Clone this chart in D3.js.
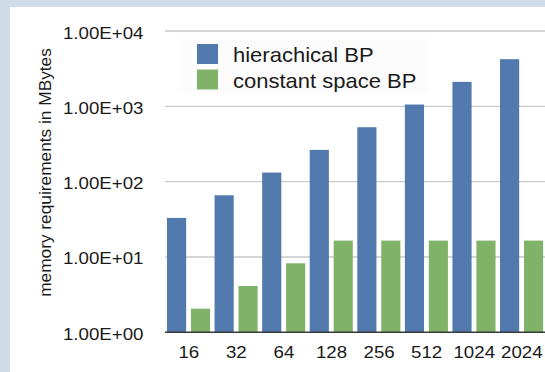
<!DOCTYPE html>
<html>
<head>
<meta charset="utf-8">
<script src="https://cdn.jsdelivr.net/npm/d3@7"></script>
<style>
  html, body { margin: 0; padding: 0; background: #cfdbe7; }
  svg { display: block; }
  text { font-family: "Liberation Sans", Arial, Helvetica, sans-serif; fill: #1a1a1a; }
</style>
</head>
<body>
<svg id="chart" width="545" height="372"></svg>
<script>
// Block sizes along the x axis
const categories = ["16", "32", "64", "128", "256", "512", "1024", "2024"];
// Memory requirements in MBytes
const hierarchicalBP = [33, 66, 132, 264, 528, 1056, 2112, 4224];
const constantSpaceBP = [2.06, 4.12, 8.25, 16.5, 16.5, 16.5, 16.5, 16.5];
const seriesNames = ["hierachical BP", "constant space BP"];
const seriesColors = ["#5279ad", "#80b368"];
// Log-axis ticks and their labels
const yTicks = [1, 10, 100, 1000, 10000];
const yTickLabels = ["1.00E+00", "1.00E+01", "1.00E+02", "1.00E+03", "1.00E+04"];
const yTitle = "memory requirements in MBytes";

// horizontal widening of the label glyphs
const widen = 1.1;

const svg = d3.select("#chart");

// white panel
svg.append("rect").attr("x", 10).attr("y", 7).attr("width", 535).attr("height", 365).attr("fill", "#ffffff");

const plot = { left: 165, right: 545.6, top: 31, bottom: 332.3 };

const x = d3.scaleBand().domain(categories).range([plot.left, plot.right]).paddingInner(0).paddingOuter(0);
const xSub = d3.scaleBand().domain([0, 1]).range([2, x.step() - 2.5]).paddingInner(0.2);
const y = d3.scaleLog().domain([1, 10000]).range([plot.bottom, plot.top]);

// gridlines
svg.append("g").selectAll("line").data(yTicks.slice(1)).join("line")
  .attr("x1", plot.left).attr("x2", 545)
  .attr("y1", d => y(d)).attr("y2", d => y(d))
  .attr("stroke", "#c9c9c9").attr("stroke-width", 1.3);

// legend backdrop
svg.append("rect").attr("x", 178).attr("y", 38).attr("width", 250).attr("height", 55).attr("fill", "#fcfcfc");

// bars
const rows = categories.map((c, i) => ({ c, vals: [hierarchicalBP[i], constantSpaceBP[i]] }));
const groups = svg.append("g").selectAll("g").data(rows).join("g")
  .attr("transform", d => `translate(${x(d.c)},0)`);
groups.selectAll("rect").data(d => d.vals.map((v, k) => ({ v, k }))).join("rect")
  .attr("x", d => xSub(d.k))
  .attr("width", xSub.bandwidth())
  .attr("y", d => y(d.v))
  .attr("height", d => plot.bottom - y(d.v))
  .attr("fill", d => seriesColors[d.k]);

// baseline
svg.append("line").attr("x1", plot.left).attr("x2", 545)
  .attr("y1", plot.bottom).attr("y2", plot.bottom)
  .attr("stroke", "#3a3a3a").attr("stroke-width", 1.5);

// y tick labels
svg.append("g").selectAll("text").data(yTicks).join("text")
  .attr("transform", d => `translate(143.5,${y(d) + 7.5}) scale(${widen},1)`)
  .attr("text-anchor", "end").attr("font-size", 17)
  .text((d, i) => yTickLabels[i]);

// x tick labels
svg.append("g").selectAll("text").data(categories).join("text")
  .attr("transform", d => `translate(${x(d) + x.bandwidth() / 2},357.5) scale(${widen},1)`)
  .attr("text-anchor", "middle").attr("font-size", 17)
  .text(d => d);

// y axis title
svg.append("text").attr("transform", "translate(51,172.5) rotate(-90)")
  .attr("text-anchor", "middle").attr("font-size", 17.3).text(yTitle);

// legend
const legend = svg.append("g").selectAll("g").data(seriesNames).join("g")
  .attr("transform", (d, i) => `translate(197,${44 + i * 25.5})`);
legend.append("rect").attr("width", 21).attr("height", 20).attr("fill", (d, i) => seriesColors[i]);
legend.append("text").attr("transform", `translate(36,18) scale(${widen},1)`)
  .attr("font-size", 20).text(d => d);
</script>
</body>
</html>
